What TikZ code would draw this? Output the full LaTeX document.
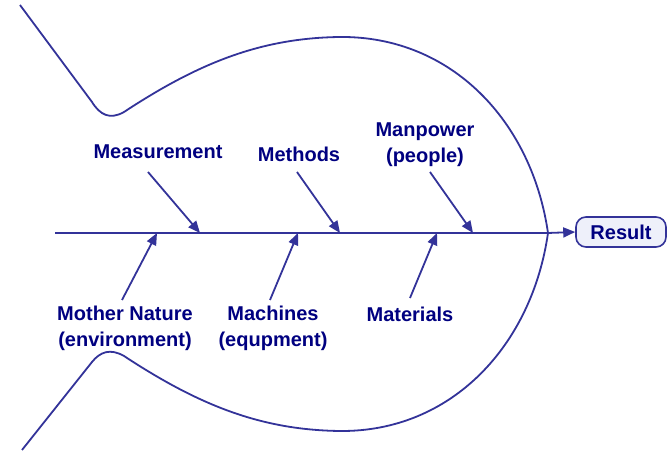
\documentclass[tikz,border=0pt]{standalone}
\usepackage{fontspec}
\setmainfont{Liberation Sans}
\usepackage{tikz}
\usetikzlibrary{arrows.meta,positioning}
\definecolor{bone}{HTML}{333399}
\definecolor{ink}{HTML}{000080}
\definecolor{boxfill}{HTML}{EEF0FA}
\tikzset{
  >={Triangle[length=6pt,width=5pt]},
  fish/.style={draw=bone,line width=0.9pt},
  rib/.style={->,draw=bone,line width=0.9pt},
  cause/.style={font=\fontsize{10}{13}\selectfont\bfseries,text=ink,align=center,inner sep=1pt},
  resbox/.style={draw=bone,fill=boxfill,line width=0.8pt,rounded corners=5pt,font=\bfseries,text=ink,minimum width=45pt,minimum height=15pt},
}
\begin{document}
\begin{tikzpicture}[x=0.5pt,y=-0.5pt]
\useasboundingbox (0,0) rectangle (669,453);
% head of the fish
\draw[fish] (20,5) -- (92,102) .. controls (100,115) and (110,120) .. (124,112)
  .. controls (200,62) and (262,38) .. (340,37) .. controls (452,36) and (532,122) .. (548,233);
\draw[fish] (22,450) -- (92,362) .. controls (100,352) and (110,348) .. (124,356)
  .. controls (200,406) and (262,430) .. (340,431) .. controls (452,432) and (532,345) .. (548,233);
% spine
\coordinate (tail) at (55,233);
\coordinate (nose) at (548,233);
\node[resbox] (result) at (621,232) {Result};
\draw[fish] (tail) -- (nose);
\draw[rib] (nose) -- (result.west);
% causes above
\node[cause] (meas) at (158,152) {Measurement};
\node[cause] (meth) at (299,154) {Methods};
\node[cause] (manp) at (425,145) {Manpower\\(people)};
\coordinate (meas0) at (148,172); \coordinate (meas1) at (200,233);
\coordinate (meth0) at (297,172); \coordinate (meth1) at (340,233);
\coordinate (manp0) at (430,172); \coordinate (manp1) at (473,233);
\draw[rib] (meas0) -- (meas1);
\draw[rib] (meth0) -- (meth1);
\draw[rib] (manp0) -- (manp1);
% causes below
\node[cause] (envi) at (125,328) {Mother Nature\\(environment)};
\node[cause] (mach) at (273,328) {Machines\\(equpment)};
\node[cause] (matl) at (410,314) {Materials};
\coordinate (envi0) at (122,300); \coordinate (envi1) at (157,233);
\coordinate (mach0) at (270,300); \coordinate (mach1) at (298,233);
\coordinate (matl0) at (410,298); \coordinate (matl1) at (437,233);
\draw[rib] (envi0) -- (envi1);
\draw[rib] (mach0) -- (mach1);
\draw[rib] (matl0) -- (matl1);
\end{tikzpicture}
\end{document}
